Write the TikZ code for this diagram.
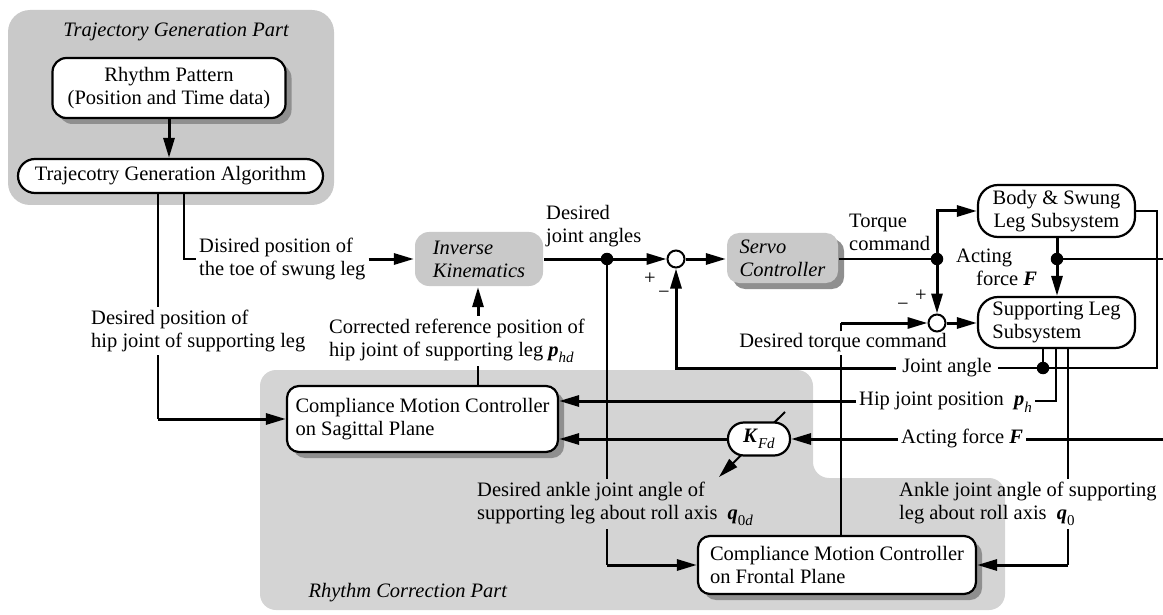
\documentclass[tikz,border=0pt]{standalone}
\usepackage{fontspec}
\setmainfont{Liberation Serif}
\usetikzlibrary{arrows.meta,shadows}
\definecolor{partgray}{HTML}{C9C9C9}
\definecolor{stipplegray}{HTML}{D4D4D4}
\definecolor{shadowgray}{HTML}{8F8F8F}
\newcommand{\mainsize}{\fontsize{20.5}{23}\selectfont}
\newcommand{\bv}[1]{\textbf{\textit{#1}}}
\newcommand{\mysub}[1]{\raisebox{-0.32em}{\fontsize{15}{15}\selectfont #1}}
\begin{document}
\begin{tikzpicture}[x=1pt,y=-1pt,
  font=\mainsize,
  thinln/.style={line width=2.0pt},
  thickln/.style={line width=3.0pt},
  arr/.style={-{Triangle[length=20pt,width=11pt]}},
  boxbase/.style={draw, line width=2.2pt, fill=white, inner sep=0pt, font=\mainsize},
  shadowed/.style={drop shadow={shadow xshift=6pt, shadow yshift=-6pt, fill=shadowgray, opacity=1}},
  lbl/.style={inner sep=3pt, align=left, font=\mainsize},
  onelbl/.style={lbl, text height=14pt, text depth=5pt},
  dotn/.style={circle, fill=black, inner sep=0pt, minimum size=12.5pt},
  sumc/.style={circle, draw, line width=2pt, fill=white, inner sep=0pt, minimum size=17pt}
]
\useasboundingbox (0,0) rectangle (1163,615);
% background parts
\fill[partgray, rounded corners=22pt] (8,10) rectangle (334,205);
\fill[stipplegray, rounded corners=16pt] (260,370) -- (813,370) -- (813,478) -- (1005,478) -- (1005,610) -- (260,610) -- cycle;
% adjustable-gain arrow through K_Fd (drawn behind the box)
\coordinate (kt1) at (785,412);
\coordinate (kt2) at (719,477);
\draw[thinln, arr] (kt1) -- (kt2);
% blocks
\node[font=\mainsize\itshape] (ttitle) at (176,32) {Trajectory Generation Part};
\node[boxbase, shadowed, rounded corners=14pt, minimum width=233pt, minimum height=60pt, align=center] (rhythm) at (169,88) {Rhythm Pattern\\(Position and Time data)};
\node[boxbase, rounded corners=17pt, minimum width=305pt, minimum height=34pt] (tga) at (170.5,176) {Trajecotry Generation Algorithm};
\node[boxbase, draw=none, fill=partgray, rounded corners=14pt, minimum width=128pt, minimum height=54pt, align=left, font=\mainsize\itshape] (ik) at (479,259) {Inverse\\Kinematics};
\node[boxbase, draw=none, fill=partgray, shadowed, rounded corners=12pt, minimum width=111pt, minimum height=50pt, align=left, font=\mainsize\itshape] (servo) at (782.5,258) {Servo\\Controller};
\node[boxbase, rounded corners=20pt, minimum width=157pt, minimum height=52pt, align=center] (body) at (1056.5,211) {Body \& Swung\\Leg Subsystem};
\node[boxbase, rounded corners=20pt, minimum width=157pt, minimum height=51pt, align=left] (supp) at (1056.5,322.5) {Supporting Leg\\Subsystem};
\node[boxbase, shadowed, rounded corners=12pt, minimum width=271pt, minimum height=66pt, align=left] (sag) at (422.5,419) {Compliance Motion Controller\\on Sagittal Plane};
\node[boxbase, shadowed, rounded corners=12pt, minimum width=278pt, minimum height=58pt, align=left] (front) at (837,565) {Compliance Motion Controller\\on Frontal Plane};
\node[boxbase, rounded corners=16pt, minimum width=62pt, minimum height=33pt] (kfd) at (759,439) {\bv{K}\mysub{\textit{Fd}}};
% junctions
\node[dotn] (d1) at (607,259) {};
\node[sumc] (sum1) at (676,259) {};
\node[dotn] (d2) at (937,259) {};
\node[sumc] (sum2) at (937,323) {};
\node[dotn] (d3) at (1057,259) {};
\node[dotn] (d4) at (1043,368) {};
% labels
\node[lbl, anchor=west] (toelbl) at (196,259) {Disired position of\\the toe of swung leg};
\node[lbl, anchor=west] (hiplbl) at (88,331) {Desired position of\\hip joint of supporting leg};
\node[lbl, anchor=west] (corrlbl) at (326,341) {Corrected reference position of\\hip joint of supporting leg \bv{p}\mysub{\textit{hd}}};
\node[lbl, anchor=west] (djlbl) at (543,226) {Desired\\joint angles};
\node[lbl, anchor=west] (tqlbl) at (846,232) {Torque\\command};
\node[lbl, anchor=west] (aclbl) at (953,267) {Acting\\\hspace*{20pt}force \bv{F}};
\node[onelbl, inner sep=2pt] (dtlbl) at (843,343) {Desired torque command};
\node[onelbl, inner sep=6pt] (jalbl) at (947,368) {Joint angle};
\node[onelbl, anchor=west] (hplbl) at (856,401) {Hip joint position\ \ \bv{p}\mysub{\textit{h}}};
\node[onelbl, anchor=west] (aflbl) at (898,439) {Acting force \bv{F}};
\node[lbl, anchor=west] (adlbl) at (474,504) {Desired ankle joint angle of\\supporting leg about roll axis\ \ \bv{q}\mysub{0\textit{d}}};
\node[lbl, anchor=west] (aklbl) at (896,504) {Ankle joint angle of supporting\\leg about roll axis\ \ \bv{q}\mysub{0}};
\node[font=\mainsize\itshape, anchor=west] (rclbl) at (305,593) {Rhythm Correction Part};
\node (plus1) at (650,279) {+};
\node (minus1) at (664,295) {−};
\node (plus2) at (921,296) {+};
\node (minus2) at (903,307) {−};
% helper coordinates
\coordinate (xA) at (158,0);
\coordinate (xB) at (184,0);
\coordinate (xC) at (478,0);
\coordinate (xE) at (1043,0);
\coordinate (xF) at (1056,0);
\coordinate (xG) at (1068,0);
\coordinate (xH) at (841,0);
\coordinate (xR) at (1157,0);
\coordinate (re1) at (1163,259);
\coordinate (re2) at (1163,439);
% connectors
\draw[thickln, arr] (rhythm.south) -- (rhythm.south |- tga.north);
\draw[thinln] (tga.south -| xB) |- (toelbl.west);
\draw[thickln, arr] (toelbl.east) -- (ik.west);
\draw[thinln] (tga.south -| xA) -- (hiplbl.north -| xA);
\draw[thinln] (hiplbl.south -| xA) -- (xA |- sag.west);
\draw[thickln, arr] (xA |- sag.west) -- (sag.west);
\draw[thinln] (sag.north -| xC) -- (corrlbl.south -| xC);
\draw[thickln, arr] (corrlbl.north -| xC) -- (ik.south -| xC);
\draw[thickln] (ik.east) -- (d1);
\draw[thickln, arr] (d1) -- (sum1.west);
\draw[thickln, arr] (sum1.east) -- (servo.west |- sum1.east);
\draw[thinln] (servo.east |- d2) -- (d2);
\draw[thickln, arr] (d2) |- (body.west);
\draw[thickln, arr] (d2) -- (sum2.north);
\draw[thickln, arr] (sum2.east) -- (supp.west |- sum2.east);
\draw[thickln] (body.south -| d3) -- (d3);
\draw[thickln, arr] (d3) -- (supp.north -| d3);
\draw[thinln] (d3) -- (re1);
\draw[thinln] (body.east) -| (xR |- jalbl.east) -- (jalbl.east);
\draw[thickln, arr] (jalbl.west) -| (sum1.south);
\draw[thinln] (supp.south -| xE) -- (d4);
\draw[thinln] (supp.south -| xF) |- (hplbl.east);
\draw[thickln, arr] (hplbl.west) -- (sag.east |- hplbl.west);
\draw[thinln] (supp.south -| xG) -- (aklbl.north -| xG);
\draw[thinln] (aklbl.south -| xG) -- (xG |- front.east);
\draw[thickln, arr] (xG |- front.east) -- (front.east);
\draw[thickln] (re2) -- (aflbl.east);
\draw[thickln, arr] (aflbl.west) -- (kfd.east |- aflbl.west);
\draw[thickln, arr] (kfd.west) -- (sag.east |- kfd.west);
\draw[thinln] (d1) -- (adlbl.north -| d1);
\draw[thinln] (adlbl.south -| d1) -- (d1 |- front.west);
\draw[thickln, arr] (d1 |- front.west) -- (front.west);
\draw[thinln] (front.north -| xH) -- (dtlbl.south -| xH);
\draw[thinln] (dtlbl.north -| xH) -- (xH |- sum2.west);
\draw[thickln, arr] (xH |- sum2.west) -- (sum2.west);
\end{tikzpicture}
\end{document}
